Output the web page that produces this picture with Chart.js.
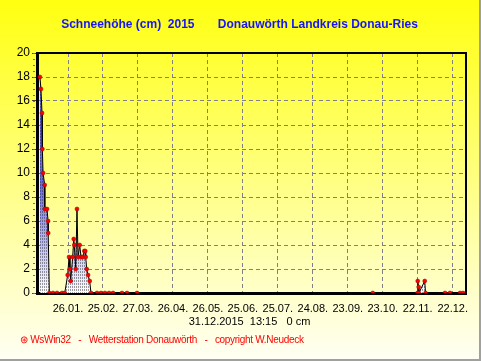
<!DOCTYPE html>
<html>
<head>
<meta charset="utf-8">
<script src="https://cdn.jsdelivr.net/npm/chart.js@4/dist/chart.umd.min.js"></script>
<style>
  html, body { margin: 0; padding: 0; }
  #frame {
    position: relative;
    width: 479px; height: 359px;
    background: linear-gradient(#ffff10, #fffff4);
    border-right: 2px solid #a0a0a0;
    border-bottom: 2px solid #a0a0a0;
    font-family: "Liberation Sans", Arial, sans-serif;
    overflow: hidden;
  }
  #chart { position: absolute; left: 0; top: 0; }
  .txt { position: absolute; white-space: pre; }
  #title { top: 17px; left: 0; width: 479px; text-align: center; color: #1414ff; font-weight: bold; font-size: 12px; }
  #stamp { top: 315px; left: 0; width: 499px; text-align: center; color: #000; font-size: 11px; }
  #credit { top: 334px; left: 20px; color: #ff0000; font-size: 10px; letter-spacing: -0.3px; }
</style>
</head>
<body>
<div id="frame">
  <canvas id="chart" width="479" height="359"></canvas>
  <div id="title" class="txt">Schneehöhe (cm)  2015       Donauwörth Landkreis Donau-Ries</div>
  <div id="stamp" class="txt">31.12.2015  13:15   0 cm</div>
  <div id="credit" class="txt">⊛ WsWin32   -   Wetterstation Donauwörth   -   copyright W.Neudeck</div>
</div>
<script>
// Snow depth readings, day of year (0 = 01.01.) and cm
const snowDays = [0.9, 1.8, 2.7, 3.0, 3.6, 5.0, 5.1, 7.0, 7.9, 8.0, 9.0, 12.1, 15.6, 19.9, 22.2,
  24.7, 25.9, 26.7, 27.3, 29.0, 29.9, 30.4, 31.6, 32.7, 33.6, 35.0, 36.2, 37.6, 39.0, 39.8, 40.2,
  41.0, 42.2, 43.6, 44.7, 49.9, 53.3, 56.7, 60.2, 63.6, 71.3, 75.6, 84.2, 286.4,
  324.8, 325.0, 325.8, 326.0, 331.0, 331.7, 348.4, 352.7, 361.3, 363.9];
const snowCm = [18, 17, 15, 12, 10, 9, 7, 7, 6, 5, 0, 0, 0, 0, 0,
  1.5, 3, 2, 1, 3, 4.5, 4, 2, 7, 3, 4, 3, 3, 3.5, 3.5, 3,
  2, 1.5, 1, 0, 0, 0, 0, 0, 0, 0, 0, 0, 0,
  0, 1, 0.5, 0, 1, 0, 0, 0, 0, 0];

const tickDays = [25, 55, 85, 115, 145, 175, 205, 235, 265, 295, 325, 355];
const tickLabels = ['26.01.', '25.02.', '27.03.', '26.04.', '26.05.', '25.06.',
  '25.07.', '24.08.', '23.09.', '23.10.', '22.11.', '22.12.'];

Chart.defaults.font.family = '"Liberation Sans", Arial, sans-serif';
Chart.defaults.color = '#000';

// Hatched fill like the old WsWin bars
function hatchFill(chart) {
  const y = chart.scales.y;
  if (!chart.chartArea || !y) return 'rgba(110,110,230,0.6)';
  const c = document.createElement('canvas');
  c.width = 2; c.height = chart.height;
  const g = c.getContext('2d');
  const grad = g.createLinearGradient(0, y.getPixelForValue(9), 0, y.getPixelForValue(0));
  grad.addColorStop(0, '#6a6ae8');
  grad.addColorStop(1, '#ffffff');
  g.fillStyle = grad;
  g.fillRect(0, 0, 2, c.height);
  g.fillStyle = 'rgba(40,40,40,0.45)';
  for (let r = 0; r < c.height; r++) {
    if (r % 3 !== 0) g.fillRect(0, r, 1, 1);
  }
  return chart.ctx.createPattern(c, 'repeat');
}

const frameLines = {
  id: 'frameLines',
  afterDraw(chart) {
    const { ctx, chartArea: a, scales: { y } } = chart;
    ctx.save();
    ctx.strokeStyle = '#000';
    ctx.lineWidth = 2;
    ctx.beginPath();
    ctx.moveTo(a.left, a.top);
    ctx.lineTo(a.right, a.top);
    ctx.lineTo(a.right, a.bottom);
    ctx.stroke();
    // small ticks every 0.5 cm
    ctx.lineWidth = 1;
    ctx.strokeStyle = '#707070';
    for (let v = 0; v <= 20; v += 0.5) {
      const py = Math.round(y.getPixelForValue(v)) + 0.5;
      ctx.beginPath();
      ctx.moveTo(a.left - 4, py);
      ctx.lineTo(a.left - 2, py);
      ctx.stroke();
    }
    ctx.restore();
  }
};

new Chart(document.getElementById('chart'), {
  type: 'line',
  data: {
    datasets: [{
      data: snowDays.map((d, i) => ({ x: d, y: snowCm[i] })),
      borderColor: '#000',
      borderWidth: 1,
      fill: 'origin',
      backgroundColor: ctx => hatchFill(ctx.chart),
      pointRadius: 2,
      pointBackgroundColor: '#ff0000',
      pointBorderColor: '#900000',
      pointBorderWidth: 0.5,
      tension: 0
    }]
  },
  options: {
    responsive: false,
    animation: false,
    layout: { padding: { top: 53, right: 13, left: 0, bottom: 0 } },
    plugins: { legend: { display: false }, tooltip: { enabled: false } },
    scales: {
      x: {
        type: 'linear',
        min: -1.6,
        max: 366.4,
        afterFit: s => { s.height = 66; },
        afterBuildTicks: s => { s.ticks = tickDays.map(v => ({ value: v })); },
        ticks: {
          autoSkip: false,
          maxRotation: 0,
          padding: 9,
          font: { size: 11 },
          callback: (v) => tickLabels[tickDays.indexOf(v)]
        },
        grid: { color: '#80808a', drawTicks: false },
        border: { color: '#000', width: 3, dash: [4, 3] }
      },
      y: {
        min: 0,
        max: 20,
        afterFit: s => { s.width = 37; },
        ticks: { stepSize: 2, padding: 2, font: { size: 12 } },
        grid: { color: '#80808a', tickColor: '#404040', tickLength: 5 },
        border: { color: '#000', width: 3, dash: [4, 3] }
      }
    }
  },
  plugins: [frameLines]
});
</script>
</body>
</html>
